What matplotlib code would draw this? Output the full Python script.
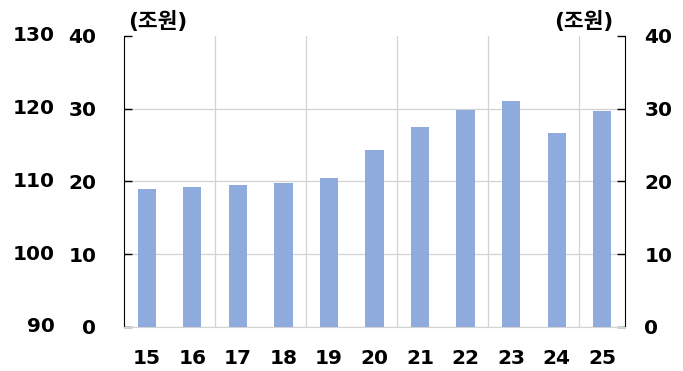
import numpy as np
import matplotlib.pyplot as plt

plt.rcParams['font.family'] = ['DejaVu Sans', 'Noto Sans CJK KR']

# Data
years = ['15', '16', '17', '18', '19', '20', '21', '22', '23', '24', '25']
values = [19.0, 19.2, 19.5, 19.8, 20.5, 24.3, 27.5, 29.8, 31.1, 26.7, 29.7]
left_ticks = [0, 10, 20, 30, 40]
outer_labels = ['90', '100', '110', '120', '130']

bar_color = '#8FAADC'
grid_color = '#D3D3D3'

fig = plt.figure(figsize=(6.83, 3.71), dpi=100)
ax = fig.add_axes([0.1816, 0.1186, 0.7334, 0.7844])

x = np.arange(len(years))
ax.bar(x, values, width=0.4, color=bar_color, zorder=3)

ax.set_xlim(-0.5, len(years) - 0.5)
ax.set_ylim(0, 40)

# gridlines: horizontal at 10/20/30, vertical every two categories
for y in [0, 10, 20, 30]:
    ax.axhline(y, color=grid_color, linewidth=0.9, zorder=1)
for xv in np.arange(1.5, len(years) - 1, 2):
    ax.axvline(xv, color=grid_color, linewidth=0.9, zorder=1)

ax.set_xticks(x)
ax.set_xticklabels(years, fontsize=14.5, fontweight='bold')
ax.tick_params(axis='x', length=0, pad=15.5)

ax.set_yticks(left_ticks)
ax.set_yticklabels([str(t) for t in left_ticks], fontsize=14.5, fontweight='bold')
ax.tick_params(axis='y', direction='in', length=6, width=1, color='black', pad=20,
               left=True, right=True, labelright=False)

# right axis labels (same scale)
sec = ax.secondary_yaxis('right')
sec.set_yticks(left_ticks)
sec.set_yticklabels([str(t) for t in left_ticks], fontsize=14.5, fontweight='bold')
sec.tick_params(axis='y', length=0, pad=14)
sec.spines['right'].set_visible(False)

ax.spines['top'].set_visible(False)
ax.spines['bottom'].set_color(grid_color)
ax.spines['left'].set_color('black')
ax.spines['right'].set_color('black')

# outer left column (90-130)
for y, lab in zip(left_ticks, outer_labels):
    ax.text(-0.138, y, lab, transform=ax.get_yaxis_transform(), ha='right', va='center',
            fontsize=14.5, fontweight='bold')

ax.text(0.008, 1.05, '(조원)', transform=ax.transAxes, ha='left', va='center',
        fontsize=15.5, fontweight='bold')
ax.text(0.976, 1.05, '(조원)', transform=ax.transAxes, ha='right', va='center',
        fontsize=15.5, fontweight='bold')

fig.savefig('out.png', dpi=100)
